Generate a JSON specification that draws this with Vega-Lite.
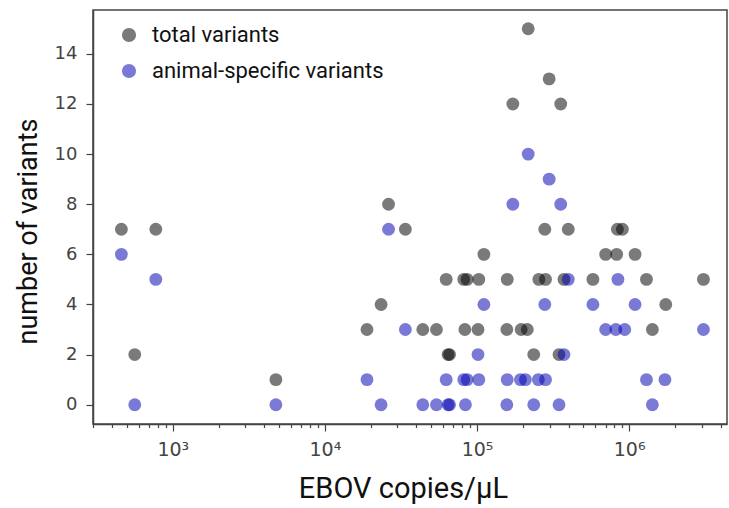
{
  "$schema": "https://vega.github.io/schema/vega-lite/v6.json",
  "width": 634,
  "height": 414,
  "autosize": "none",
  "padding": {"left": 93, "top": 10, "right": 2, "bottom": 84},
  "background": "white",
  "config": {
    "view": {"stroke": "#444", "strokeWidth": 1.5},
    "axis": {"grid": false, "domainColor": "#444", "domainWidth": 1.5, "tickColor": "#444", "tickWidth": 1.2}
  },
  "data": {
    "values": [
      {"c": 459, "n": 7, "s": "total variants"},
      {"c": 562, "n": 2, "s": "total variants"},
      {"c": 773, "n": 7, "s": "total variants"},
      {"c": 4760, "n": 1, "s": "total variants"},
      {"c": 18900, "n": 3, "s": "total variants"},
      {"c": 23400, "n": 4, "s": "total variants"},
      {"c": 26200, "n": 8, "s": "total variants"},
      {"c": 33800, "n": 7, "s": "total variants"},
      {"c": 44000, "n": 3, "s": "total variants"},
      {"c": 54100, "n": 3, "s": "total variants"},
      {"c": 62700, "n": 5, "s": "total variants"},
      {"c": 64500, "n": 2, "s": "total variants"},
      {"c": 66000, "n": 2, "s": "total variants"},
      {"c": 81800, "n": 5, "s": "total variants"},
      {"c": 83200, "n": 3, "s": "total variants"},
      {"c": 86100, "n": 5, "s": "total variants"},
      {"c": 102700, "n": 5, "s": "total variants"},
      {"c": 101500, "n": 3, "s": "total variants"},
      {"c": 111000, "n": 6, "s": "total variants"},
      {"c": 158000, "n": 5, "s": "total variants"},
      {"c": 157000, "n": 3, "s": "total variants"},
      {"c": 172000, "n": 12, "s": "total variants"},
      {"c": 195000, "n": 3, "s": "total variants"},
      {"c": 214000, "n": 3, "s": "total variants"},
      {"c": 217000, "n": 15, "s": "total variants"},
      {"c": 236000, "n": 2, "s": "total variants"},
      {"c": 255000, "n": 5, "s": "total variants"},
      {"c": 279000, "n": 7, "s": "total variants"},
      {"c": 282000, "n": 5, "s": "total variants"},
      {"c": 298000, "n": 13, "s": "total variants"},
      {"c": 346000, "n": 2, "s": "total variants"},
      {"c": 355000, "n": 12, "s": "total variants"},
      {"c": 373000, "n": 5, "s": "total variants"},
      {"c": 398000, "n": 7, "s": "total variants"},
      {"c": 578000, "n": 5, "s": "total variants"},
      {"c": 701000, "n": 6, "s": "total variants"},
      {"c": 828000, "n": 6, "s": "total variants"},
      {"c": 837000, "n": 7, "s": "total variants"},
      {"c": 903000, "n": 7, "s": "total variants"},
      {"c": 1094000, "n": 6, "s": "total variants"},
      {"c": 1300000, "n": 5, "s": "total variants"},
      {"c": 1422000, "n": 3, "s": "total variants"},
      {"c": 1741000, "n": 4, "s": "total variants"},
      {"c": 3080000, "n": 5, "s": "total variants"},
      {"c": 459, "n": 6, "s": "animal-specific variants"},
      {"c": 562, "n": 0, "s": "animal-specific variants"},
      {"c": 773, "n": 5, "s": "animal-specific variants"},
      {"c": 4760, "n": 0, "s": "animal-specific variants"},
      {"c": 18900, "n": 1, "s": "animal-specific variants"},
      {"c": 23400, "n": 0, "s": "animal-specific variants"},
      {"c": 26200, "n": 7, "s": "animal-specific variants"},
      {"c": 33800, "n": 3, "s": "animal-specific variants"},
      {"c": 44000, "n": 0, "s": "animal-specific variants"},
      {"c": 54100, "n": 0, "s": "animal-specific variants"},
      {"c": 62700, "n": 1, "s": "animal-specific variants"},
      {"c": 64500, "n": 0, "s": "animal-specific variants"},
      {"c": 66000, "n": 0, "s": "animal-specific variants"},
      {"c": 81800, "n": 1, "s": "animal-specific variants"},
      {"c": 83900, "n": 0, "s": "animal-specific variants"},
      {"c": 86100, "n": 1, "s": "animal-specific variants"},
      {"c": 102700, "n": 1, "s": "animal-specific variants"},
      {"c": 101500, "n": 2, "s": "animal-specific variants"},
      {"c": 111000, "n": 4, "s": "animal-specific variants"},
      {"c": 158000, "n": 1, "s": "animal-specific variants"},
      {"c": 157000, "n": 0, "s": "animal-specific variants"},
      {"c": 172000, "n": 8, "s": "animal-specific variants"},
      {"c": 193000, "n": 1, "s": "animal-specific variants"},
      {"c": 208000, "n": 1, "s": "animal-specific variants"},
      {"c": 217000, "n": 10, "s": "animal-specific variants"},
      {"c": 236000, "n": 0, "s": "animal-specific variants"},
      {"c": 253000, "n": 1, "s": "animal-specific variants"},
      {"c": 279000, "n": 4, "s": "animal-specific variants"},
      {"c": 282000, "n": 1, "s": "animal-specific variants"},
      {"c": 298000, "n": 9, "s": "animal-specific variants"},
      {"c": 346000, "n": 0, "s": "animal-specific variants"},
      {"c": 355000, "n": 8, "s": "animal-specific variants"},
      {"c": 373000, "n": 2, "s": "animal-specific variants"},
      {"c": 398000, "n": 5, "s": "animal-specific variants"},
      {"c": 578000, "n": 4, "s": "animal-specific variants"},
      {"c": 701000, "n": 3, "s": "animal-specific variants"},
      {"c": 818000, "n": 3, "s": "animal-specific variants"},
      {"c": 844000, "n": 5, "s": "animal-specific variants"},
      {"c": 936000, "n": 3, "s": "animal-specific variants"},
      {"c": 1094000, "n": 4, "s": "animal-specific variants"},
      {"c": 1300000, "n": 1, "s": "animal-specific variants"},
      {"c": 1422000, "n": 0, "s": "animal-specific variants"},
      {"c": 1720000, "n": 1, "s": "animal-specific variants"},
      {"c": 3080000, "n": 3, "s": "animal-specific variants"}
    ]
  },
  "mark": {"type": "point", "shape": "circle", "filled": true, "size": 165, "opacity": 0.52, "strokeWidth": 0},
  "encoding": {
    "x": {
      "field": "c",
      "type": "quantitative",
      "scale": {"type": "log", "domain": [298.7, 4400000], "nice": false},
      "axis": {
        "title": "EBOV copies/µL",
        "titleFont": "Roboto",
        "titleFontSize": 29,
        "titleFontWeight": "normal",
        "titleColor": "#111",
        "titlePadding": 15,
        "titleX": 310,
        "values": [300, 400, 500, 600, 700, 800, 900, 1000, 2000, 3000, 4000, 5000, 6000, 7000, 8000, 9000, 10000, 20000, 30000, 40000, 50000, 60000, 70000, 80000, 90000, 100000, 200000, 300000, 400000, 500000, 600000, 700000, 800000, 900000, 1000000, 2000000, 3000000, 4000000],
        "tickSize": {"condition": {"test": "datum.value == 1000 || datum.value == 10000 || datum.value == 100000 || datum.value == 1000000", "value": 7}, "value": 3.5},
        "labelExpr": "datum.value == 1000 ? '10³' : datum.value == 10000 ? '10⁴' : datum.value == 100000 ? '10⁵' : datum.value == 1000000 ? '10⁶' : ''",
        "labelOverlap": false,
        "labelBound": false,
        "labelFlush": false,
        "labelFont": "DejaVu Sans",
        "labelFontSize": 19,
        "labelColor": "#444",
        "labelPadding": 9
      }
    },
    "y": {
      "field": "n",
      "type": "quantitative",
      "scale": {"domain": [-0.77, 15.75], "nice": false, "zero": false},
      "axis": {
        "title": "number of variants",
        "titleFont": "Roboto",
        "titleFontSize": 27,
        "titleFontWeight": "normal",
        "titleColor": "#111",
        "titlePadding": 12,
        "titleY": 221,
        "values": [0, 2, 4, 6, 8, 10, 12, 14],
        "tickSize": 7,
        "labelFont": "DejaVu Sans",
        "labelFontSize": 18,
        "labelColor": "#444",
        "labelPadding": 9
      }
    },
    "color": {
      "field": "s",
      "type": "nominal",
      "sort": null,
      "scale": {"domain": ["total variants", "animal-specific variants"], "range": ["#000000", "#0000b0"]},
      "legend": {
        "title": null,
        "orient": "none",
        "legendX": 25,
        "legendY": 14,
        "padding": 0,
        "symbolType": "circle",
        "symbolSize": 200,
        "symbolOpacity": 0.52,
        "symbolStrokeWidth": 0,
        "labelFont": "Roboto",
        "labelFontSize": 22,
        "labelColor": "#111",
        "labelOffset": 12,
        "rowPadding": 14,
        "labelLimit": 400
      }
    }
  }
}
